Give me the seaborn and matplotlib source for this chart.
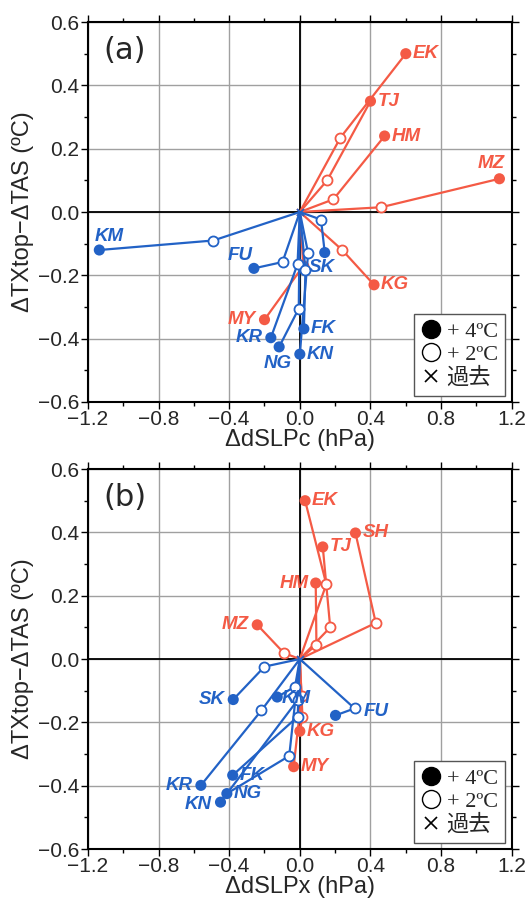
import numpy as np
import pandas as pd
import matplotlib
matplotlib.use("Agg")
import matplotlib.pyplot as plt
import seaborn as sns
from matplotlib.lines import Line2D
from matplotlib.ticker import MultipleLocator

# ---------------- data ----------------
# panel (a): dSLPc
a_station = ['EK', 'TJ', 'HM', 'MZ', 'KG', 'MY',
             'KM', 'FU', 'SK', 'KR', 'NG', 'FK', 'KN']
a_group = ['red'] * 6 + ['blue'] * 7
a_x2 = [0.23, 0.155, 0.19, 0.46, 0.24, 0.02,
        -0.49, -0.098, 0.12, -0.013, -0.006, 0.032, 0.047]
a_y2 = [0.235, 0.10, 0.04, 0.015, -0.12, -0.17,
        -0.09, -0.158, -0.024, -0.165, -0.305, -0.182, -0.13]
a_x4 = [0.60, 0.40, 0.48, 1.13, 0.42, -0.20,
        -1.135, -0.26, 0.141, -0.164, -0.117, 0.023, 0.0]
a_y4 = [0.50, 0.35, 0.24, 0.105, -0.23, -0.34,
        -0.12, -0.178, -0.128, -0.397, -0.426, -0.369, -0.449]

# panel (b): dSLPx
b_station = ['EK', 'SH', 'TJ', 'HM', 'MZ', 'KG', 'MY',
             'SK', 'KM', 'FU', 'KR', 'FK', 'NG', 'KN']
b_group = ['red'] * 7 + ['blue'] * 7
b_x2 = [0.15, 0.43, 0.172, 0.094, -0.09, 0.015, 0.01,
        -0.2, -0.027, 0.31, -0.217, -0.012, -0.06, -0.01]
b_y2 = [0.236, 0.114, 0.10, 0.045, 0.019, -0.183, -0.118,
        -0.024, -0.087, -0.156, -0.162, -0.182, -0.306, -0.128]
b_x4 = [0.03, 0.315, 0.13, 0.09, -0.241, 0.0, -0.035,
        -0.377, -0.128, 0.202, -0.56, -0.38, -0.413, -0.449]
b_y4 = [0.50, 0.398, 0.354, 0.24, 0.108, -0.228, -0.34,
        -0.128, -0.12, -0.178, -0.399, -0.367, -0.425, -0.452]

xticks = [-1.2, -0.8, -0.4, 0.0, 0.4, 0.8, 1.2]
yticks = [-0.6, -0.4, -0.2, 0.0, 0.2, 0.4, 0.6]

# label offsets (points) and alignment
a_lab = {'EK': (5, 0, 'left'), 'TJ': (5, 0, 'left'), 'HM': (5, 0, 'left'),
         'MZ': (4, 11, 'right'), 'KG': (5, 0, 'left'), 'MY': (-6, 0, 'right'),
         'KM': (-3, 10, 'left'), 'FU': (-1, 9, 'right'), 'SK': (-2, -11, 'center'),
         'KR': (-6, 0, 'right'), 'NG': (-1, -12, 'center'), 'FK': (5, 0, 'left'),
         'KN': (5, 0, 'left')}
b_lab = {'EK': (5, 0, 'left'), 'SH': (5, 0, 'left'), 'TJ': (5, 0, 'left'),
         'HM': (-5, 0, 'right'), 'MZ': (-6, 0, 'right'), 'KG': (5, 0, 'left'),
         'MY': (5, 0, 'left'), 'SK': (-6, 0, 'right'), 'KM': (3, -1, 'left'),
         'FU': (20, 3, 'left'), 'KR': (-6, 0, 'right'), 'FK': (5, 0, 'left'),
         'NG': (5, 0, 'left'), 'KN': (-6, -2, 'right')}

colors = {'red': '#f45a45', 'blue': '#2262c6'}

sns.set_theme(style='ticks')
plt.rcParams['font.family'] = ['Liberation Sans', 'Noto Sans CJK JP', 'DejaVu Sans']
plt.rcParams['axes.unicode_minus'] = True

fig = plt.figure(figsize=(5.26, 9.06), dpi=100)
ax_a = fig.add_axes([0.167, 0.5563, 0.806, 0.4194])
ax_b = fig.add_axes([0.167, 0.0629, 0.806, 0.4194])


def draw_panel(ax, station, group, x2, y2, x4, y4, labs, tag, xlabel):
    rows = []
    for s, g, a, b, c, d in zip(station, group, x2, y2, x4, y4):
        rows += [dict(station=s, group=g, stage=0, x=0.0, y=0.0),
                 dict(station=s, group=g, stage=1, x=a, y=b),
                 dict(station=s, group=g, stage=2, x=c, y=d)]
    df = pd.DataFrame(rows)

    ax.grid(True, color='#a0a0a0', lw=1.0, zorder=0)
    ax.axhline(0, color='black', lw=1.3, zorder=1)
    ax.axvline(0, color='black', lw=1.3, zorder=1)

    z = 2
    for g in ['red', 'blue']:
        sub = df[df.group == g]
        sns.lineplot(data=sub, x='x', y='y', units='station', estimator=None,
                     sort=False, color=colors[g], lw=1.6, ax=ax, zorder=z)
        s1 = sub[sub.stage == 1]
        s2 = sub[sub.stage == 2]
        ax.scatter(s1.x, s1.y, s=52, facecolors='white', edgecolors=colors[g],
                   linewidths=1.3, zorder=z + 1)
        sns.scatterplot(data=s2, x='x', y='y', color=colors[g], s=64,
                        edgecolor='none', ax=ax, zorder=z + 1)
        ax.scatter([0], [0], marker='x', s=25, color=colors[g], lw=1.3,
                   zorder=z + 1)
        for _, r in s2.iterrows():
            dx, dy, ha = labs[r.station]
            ax.annotate(r.station, (r.x, r.y), xytext=(dx, dy),
                        textcoords='offset points', ha=ha, va='center',
                        fontsize=13.5, fontweight='bold', fontstyle='italic',
                        color=colors[g], zorder=z + 2)
        z += 3

    ax.set_xlim(-1.2, 1.2)
    ax.set_ylim(-0.6, 0.6)
    ax.set_xticks(xticks)
    ax.set_yticks(yticks)
    ax.set_xticklabels([f'{v:.1f}'.replace('-', '\u2212') for v in xticks])
    ax.set_yticklabels([f'{v:.1f}'.replace('-', '\u2212') for v in yticks])
    ax.xaxis.set_minor_locator(MultipleLocator(0.2))
    ax.yaxis.set_minor_locator(MultipleLocator(0.1))
    ax.tick_params(which='both', direction='out', top=True, right=True,
                   labelsize=15, color='black', width=1.0, pad=1)
    ax.tick_params(which='major', length=5)
    ax.tick_params(which='minor', length=3)
    for sp in ax.spines.values():
        sp.set_color('black')
        sp.set_linewidth(1.5)
        sp.set_zorder(20)
    ax.set_xlabel(xlabel, fontsize=17, labelpad=0)
    ax.set_ylabel('\u0394TXtop\u2212\u0394TAS (\u00baC)', fontsize=17, labelpad=3)
    ax.text(0.087, 0.926, tag, transform=ax.transAxes, fontsize=22,
            family='DejaVu Sans', ha='center', va='center')

    handles = [Line2D([], [], ls='none', marker='o', ms=13, mfc='black', mec='black'),
               Line2D([], [], ls='none', marker='o', ms=13, mfc='white', mec='black', mew=1.0),
               Line2D([], [], ls='none', marker='x', ms=9, mec='black', mew=1.2)]
    leg = ax.legend(handles, ['+ 4\u00baC', '+ 2\u00baC', '\u904e\u53bb'],
                    loc='lower right', bbox_to_anchor=(0.985, 0.015),
                    fancybox=False, framealpha=1, edgecolor='#555555',
                    handlelength=0.8, handletextpad=0.3, labelspacing=0.1,
                    borderpad=0.35, borderaxespad=0,
                    prop={'family': ['Liberation Serif', 'Noto Sans CJK JP'], 'size': 16})
    leg.get_frame().set_linewidth(1.0)
    leg.set_zorder(30)


draw_panel(ax_a, a_station, a_group, a_x2, a_y2, a_x4, a_y4, a_lab, '(a)',
           '\u0394dSLPc (hPa)')
draw_panel(ax_b, b_station, b_group, b_x2, b_y2, b_x4, b_y4, b_lab, '(b)',
           '\u0394dSLPx (hPa)')

fig.savefig('out.png', dpi=100)
